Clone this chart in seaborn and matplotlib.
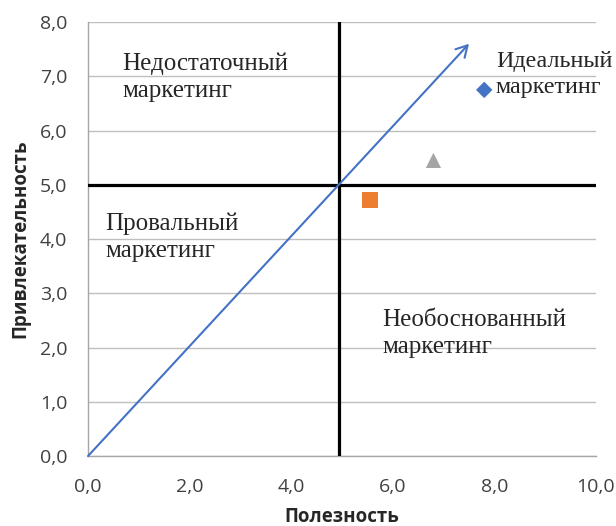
import matplotlib
matplotlib.use("Agg")
import matplotlib.pyplot as plt
import seaborn as sns
import pandas as pd

# Data
point_names = ["Идеальный", "Недостаточный", "Необоснованный"]
point_x = [7.8, 5.55, 6.8]
point_y = [6.75, 4.72, 5.45]
point_colors = ["#4472C4", "#ED7D31", "#A5A5A5"]
point_markers = ["D", "s", "^"]
point_sizes = [70, 130, 120]

arrow_start = (0.0, 0.0)
arrow_end = (7.5, 7.6)
split_x = 4.95
split_y = 5.0

x_ticks = [0, 2, 4, 6, 8, 10]
y_ticks = [0, 1, 2, 3, 4, 5, 6, 7, 8]

zone_labels = ["Недостаточный\nмаркетинг", "Идеальный\nмаркетинг",
               "Провальный\nмаркетинг", "Необоснованный\nмаркетинг"]
zone_x = [0.67, 8.03, 0.34, 5.8]
zone_y = [6.98, 7.03, 4.04, 2.26]

sns.set_style("white")
plt.rcParams['font.family'] = ['Open Sans', 'DejaVu Sans']

fig = plt.figure(figsize=(6.16, 5.26), dpi=100)
ax = fig.add_axes([0.1429, 0.133, 0.8246, 0.825])

df = pd.DataFrame({"x": point_x, "y": point_y, "kind": point_names})
sns.scatterplot(data=df, x="x", y="y", hue="kind", style="kind", size="kind",
                palette=dict(zip(point_names, point_colors)),
                markers=dict(zip(point_names, point_markers)),
                sizes=dict(zip(point_names, point_sizes)),
                linewidth=0, legend=False, ax=ax, zorder=4)

# quadrant lines
ax.axhline(split_y, color="black", lw=2.3, zorder=3)
ax.plot([split_x, split_x], [0, 8], color="black", lw=2.3, zorder=3)

# diagonal arrow
ax.annotate("", xy=arrow_end, xytext=arrow_start,
            arrowprops=dict(arrowstyle="->,head_length=0.8,head_width=0.45",
                            color="#4472C4", lw=1.5, shrinkA=0, shrinkB=0),
            zorder=3)

for i, (txt, tx, ty) in enumerate(zip(zone_labels, zone_x, zone_y)):
    # the top-right label sits against the figure edge, so a touch smaller
    fs = 17.3 if i == 1 else 18
    ax.text(tx, ty, txt, family="Liberation Serif", fontsize=fs,
            ha="left", va="center", linespacing=1.3, zorder=5)

ax.set_xlim(0, 10)
ax.set_ylim(0, 8)
ax.set_xticks(x_ticks)
ax.set_yticks(y_ticks)
ax.set_xticklabels([f"{v:.1f}".replace(".", ",") for v in x_ticks], fontsize=14, color="#404040")
ax.set_yticklabels([f"{v:.1f}".replace(".", ",") for v in y_ticks], fontsize=14, color="#404040")
ax.tick_params(axis="both", length=5, width=1, color="#A6A6A6", direction="out")
ax.tick_params(axis="x", pad=11)
ax.tick_params(axis="y", pad=10)

ax.yaxis.grid(True, color="#BFBFBF", lw=1)
ax.set_axisbelow(True)
sns.despine(ax=ax)
for s in ["left", "bottom"]:
    ax.spines[s].set_color("#A6A6A6")
    ax.spines[s].set_linewidth(1)

ax.set_xlabel("Полезность", fontsize=13.5, fontweight="bold", labelpad=8)
ax.set_ylabel("Привлекательность", fontsize=13.5, fontweight="bold", labelpad=7)

fig.savefig("out.png", dpi=100)
